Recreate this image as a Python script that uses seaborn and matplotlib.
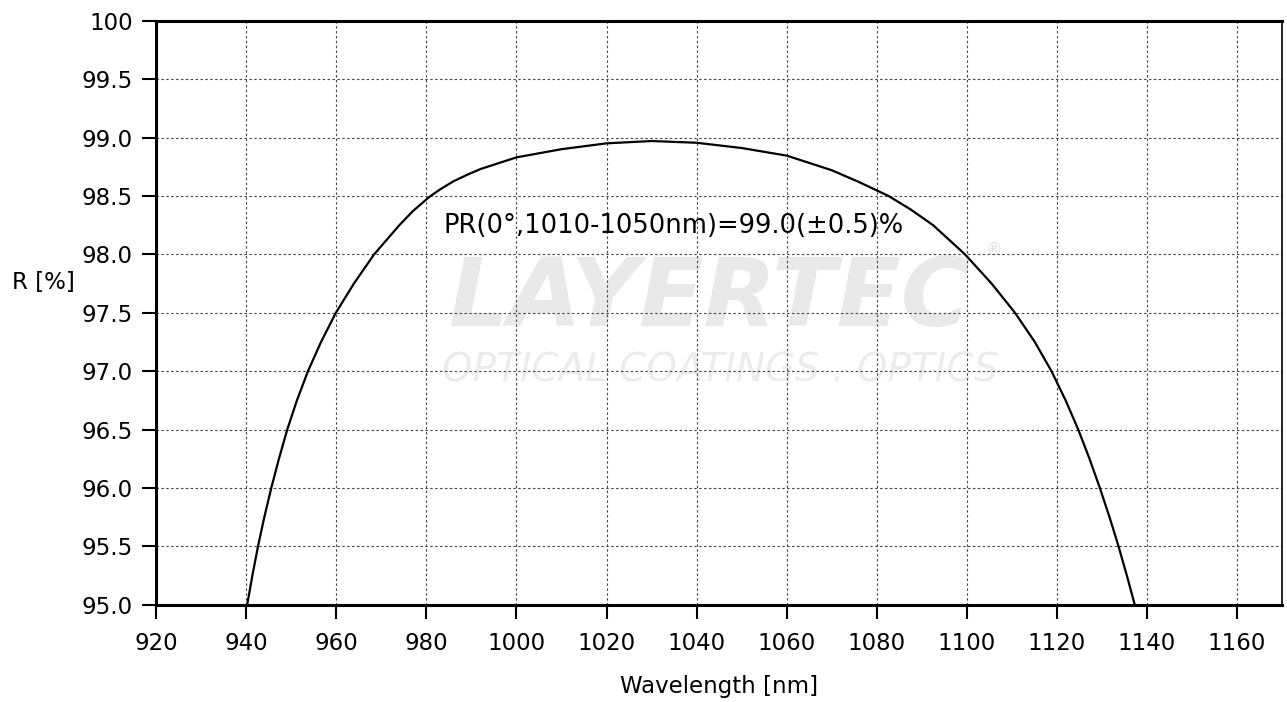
import matplotlib
matplotlib.use('Agg')
import matplotlib.pyplot as plt
import seaborn as sns

# 数据：反射率曲线 (读取自参考图)
wavelength = [940.2, 941.35, 942.6, 944.0, 945.55, 947.25, 949.1, 951.25, 953.7, 956.6,
              959.9, 963.9, 968.4, 974.0, 977.0, 980.6, 983.0, 986.0, 989.0, 992.0,
              1000.0, 1010.0, 1020.0, 1030.0, 1040.0, 1050.0, 1060.0, 1070.0, 1076.0,
              1082.6, 1087.5, 1092.5, 1099.6, 1105.5, 1110.7, 1115.1, 1118.8, 1121.95,
              1124.75, 1127.25, 1129.55, 1131.7, 1133.7, 1135.55, 1137.3]
reflectance = [95.0, 95.25, 95.5, 95.75, 96.0, 96.25, 96.5, 96.75, 97.0, 97.25,
               97.5, 97.75, 98.0, 98.25, 98.37, 98.49, 98.555, 98.625, 98.68, 98.73,
               98.83, 98.90, 98.95, 98.97, 98.955, 98.91, 98.845, 98.72, 98.62,
               98.5, 98.385, 98.25, 98.0, 97.75, 97.5, 97.25, 97.0, 96.75,
               96.5, 96.25, 96.0, 95.75, 95.5, 95.25, 95.0]

x_ticks = [920, 940, 960, 980, 1000, 1020, 1040, 1060, 1080, 1100, 1120, 1140, 1160]
y_ticks = [95.0, 95.5, 96.0, 96.5, 97.0, 97.5, 98.0, 98.5, 99.0, 99.5, 100.0]
y_tick_labels = ['95.0', '95.5', '96.0', '96.5', '97.0', '97.5', '98.0', '98.5',
                 '99.0', '99.5', '100']
annotation = 'PR(0°,1010-1050nm)=99.0(±0.5)%'

sns.set_style('white')
plt.rcParams['font.family'] = ['DejaVu Sans']

fig = plt.figure(figsize=(12.87, 7.02), dpi=100)
ax = fig.add_axes([0.1214, 0.1386, 0.8747, 0.8319])

# 水印 LAYERTEC
ax.text(984.8, 97.386, 'LAYERTEC', fontsize=68, fontweight='bold', fontstyle='italic',
        color='#e9e9e9', ha='left', va='baseline', zorder=0.1)
ax.text(983.4, 96.907, 'OPTICAL COATINGS . OPTICS', fontsize=28, fontweight='light',
        fontstyle='italic', color='#ececec', ha='left', va='baseline', zorder=0.1)
ax.text(1104.3, 98.0, '®', fontsize=12, color='#e2e2e2', zorder=0.1)

sns.lineplot(x=wavelength, y=reflectance, color='black', linewidth=1.6,
             sort=False, ax=ax, zorder=3)

ax.set_xlim(920, 1170)
ax.set_ylim(95, 100)
ax.set_xticks(x_ticks)
ax.set_yticks(y_ticks)
ax.set_yticklabels(y_tick_labels)
ax.set_axisbelow(True)
ax.grid(True, color='#444444', linestyle=(0, (2.2, 2.2)), linewidth=0.8)

for side in ['left', 'bottom', 'top']:
    ax.spines[side].set_linewidth(2.2)
    ax.spines[side].set_color('black')
ax.spines['right'].set_linewidth(1.2)
ax.spines['right'].set_color('black')

ax.tick_params(axis='both', direction='out', length=10, width=1.5,
               colors='black', labelsize=16.5, bottom=True, left=True)
ax.tick_params(axis='y', pad=7)
ax.tick_params(axis='x', pad=9.5)

ax.set_xlabel('Wavelength [nm]', fontsize=16.5, va='baseline', color='black')
ax.xaxis.set_label_coords(0.5, -0.1517)
ax.set_ylabel('R [%]', fontsize=16.5, rotation=0, ha='left', va='center', color='black')
ax.yaxis.set_label_coords(-0.1285, 0.551)

ax.text(983.9, 98.18, annotation, fontsize=18.5, va='baseline', ha='left',
        color='black', zorder=4)

plt.savefig('out.png', dpi=100)
